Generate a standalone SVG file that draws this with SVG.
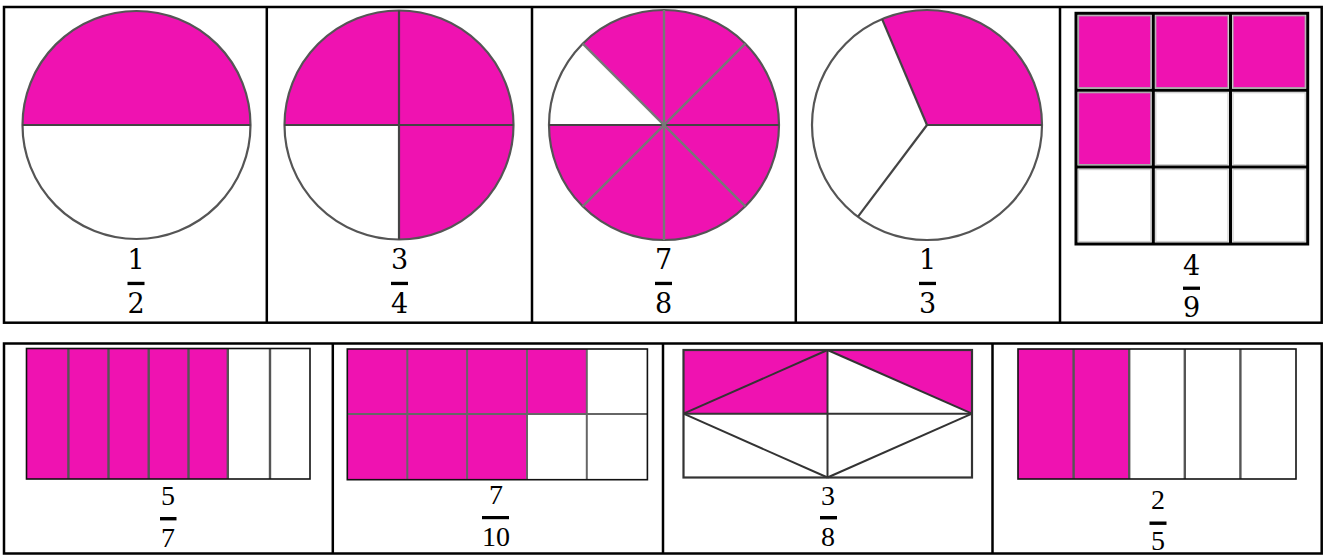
<svg xmlns="http://www.w3.org/2000/svg" width="1324" height="555" viewBox="0 0 1324 555">
<style>
.tb{stroke:#000;stroke-width:2.5;fill:none}
.pk{fill:#EF12B1}
.circ{fill:none;stroke:#555;stroke-width:2.2}
.cl{stroke:#444;stroke-width:2.2}
.dl{stroke:#777;stroke-width:2.4}
.gl{stroke:#000;stroke-width:3;fill:none}
.bx{fill:none;stroke:#111;stroke-width:1.6}
.sl{stroke:#555;stroke-width:2.4}
.tl{stroke:#333;stroke-width:2}
.num{font-family:"DejaVu Serif","Liberation Serif",serif;font-size:27px;fill:#000;text-anchor:middle}
.nb{font-family:"Liberation Serif","Times New Roman",serif;font-size:28px;fill:#000;text-anchor:middle}
.bar{fill:#000}
</style>
<rect width="1324" height="555" fill="#fff"/>

<g id="table-borders">
<rect class="tb" x="4" y="7" width="1317.7" height="315.7"/>
<line class="tb" x1="266.8" y1="7" x2="266.8" y2="322.7"/>
<line class="tb" x1="532" y1="7" x2="532" y2="322.7"/>
<line class="tb" x1="795.8" y1="7" x2="795.8" y2="322.7"/>
<line class="tb" x1="1060" y1="7" x2="1060" y2="322.7"/>
<rect class="tb" x="4" y="343.5" width="1317.7" height="210"/>
<line class="tb" x1="332.8" y1="343.5" x2="332.8" y2="553.5"/>
<line class="tb" x1="663" y1="343.5" x2="663" y2="553.5"/>
<line class="tb" x1="992.5" y1="343.5" x2="992.5" y2="553.5"/>
</g>

<g id="half">
<path class="pk" d="M22.5 125 A114 114 0 0 1 250.5 125 Z"/>
<circle class="circ" cx="136.5" cy="125" r="114"/>
<line class="cl" x1="22.5" y1="125" x2="250.5" y2="125"/>
<text class="num" x="136" y="269">1</text>
<rect class="bar" x="127.5" y="281.8" width="17" height="3.3"/>
<text class="num" x="136" y="313">2</text>
</g>

<g id="three-quarters">
<circle class="pk" cx="399" cy="125" r="114.5"/>
<path fill="#fff" d="M399 125 L284.5 125 A114.5 114.5 0 0 0 399 239.5 Z"/>
<circle class="circ" cx="399" cy="125" r="114.5"/>
<line class="cl" x1="284.5" y1="125" x2="513.5" y2="125"/>
<line class="cl" x1="399" y1="10.5" x2="399" y2="239.5"/>
<text class="num" x="399.5" y="269">3</text>
<rect class="bar" x="391" y="281.8" width="17" height="3.3"/>
<text class="num" x="399.5" y="313">4</text>
</g>

<g id="seven-eighths">
<circle class="pk" cx="664" cy="125" r="115"/>
<path fill="#fff" d="M664 125 L549 125 A115 115 0 0 1 582.7 43.7 Z"/>
<circle class="circ" cx="664" cy="125" r="115"/>
<line class="cl" x1="549" y1="125" x2="779" y2="125"/>
<line class="dl" x1="664" y1="10" x2="664" y2="240"/>
<line class="dl" x1="582.7" y1="43.7" x2="745.3" y2="206.3"/>
<line class="dl" x1="582.7" y1="206.3" x2="745.3" y2="43.7"/>
<text class="num" x="663.5" y="269">7</text>
<rect class="bar" x="655" y="281.8" width="17" height="3.3"/>
<text class="num" x="663.5" y="313">8</text>
</g>

<g id="one-third">
<path class="pk" d="M927 125 L1042 125 A115 115 0 0 0 882.1 19.1 Z"/>
<circle class="circ" cx="927" cy="125" r="115"/>
<line class="cl" x1="927" y1="125" x2="1042" y2="125"/>
<line class="cl" x1="927" y1="125" x2="882.1" y2="19.1"/>
<line class="cl" x1="927" y1="125" x2="857.8" y2="216.8"/>
<text class="num" x="927.5" y="269">1</text>
<rect class="bar" x="919" y="281.8" width="17" height="3.3"/>
<text class="num" x="927.5" y="313">3</text>
</g>

<g id="four-ninths">
<g fill="#fff" stroke="#cfcfcf" stroke-width="1.2">
<rect x="1155.8" y="92.7" width="72.2" height="71.9"/>
<rect x="1233" y="92.7" width="72.2" height="71.9"/>
<rect x="1078.5" y="169.6" width="72.3" height="71.9"/>
<rect x="1155.8" y="169.6" width="72.2" height="71.9"/>
<rect x="1233" y="169.6" width="72.2" height="71.9"/>
</g>
<g class="pk" stroke="#a8a8a8" stroke-width="1.2">
<rect x="1078.5" y="15.8" width="72.3" height="71.9"/>
<rect x="1155.8" y="15.8" width="72.2" height="71.9"/>
<rect x="1233" y="15.8" width="72.2" height="71.9"/>
<rect x="1078.5" y="92.7" width="72.3" height="71.9"/>
</g>
<rect class="gl" x="1076" y="13.3" width="231.7" height="230.7"/>
<line class="gl" x1="1153.3" y1="13.3" x2="1153.3" y2="244"/>
<line class="gl" x1="1230.5" y1="13.3" x2="1230.5" y2="244"/>
<line class="gl" x1="1076" y1="90.2" x2="1307.7" y2="90.2"/>
<line class="gl" x1="1076" y1="167.1" x2="1307.7" y2="167.1"/>
<text class="num" x="1191.5" y="275">4</text>
<rect class="bar" x="1183" y="286.6" width="17" height="3.3"/>
<text class="num" x="1191.5" y="317">9</text>
</g>

<g id="five-sevenths">
<rect class="pk" x="26.5" y="348.5" width="201.3" height="130.5"/>
<line class="sl" x1="68.4" y1="348.5" x2="68.4" y2="479"/>
<line class="sl" x1="108.5" y1="348.5" x2="108.5" y2="479"/>
<line class="sl" x1="148.7" y1="348.5" x2="148.7" y2="479"/>
<line class="sl" x1="188.5" y1="348.5" x2="188.5" y2="479"/>
<line class="sl" x1="227.8" y1="348.5" x2="227.8" y2="479"/>
<line class="sl" x1="270" y1="348.5" x2="270" y2="479"/>
<rect class="bx" x="26.5" y="348.5" width="283.5" height="130.5"/>
<text class="nb" x="168" y="505">5</text>
<rect class="bar" x="160" y="517" width="16.5" height="3.4"/>
<text class="nb" x="168" y="546.5">7</text>
</g>

<g id="seven-tenths">
<rect class="pk" x="347.3" y="349" width="239.5" height="65"/>
<rect class="pk" x="347.3" y="414" width="179.7" height="65.7"/>
<g stroke="#666" stroke-width="2">
<line x1="407.3" y1="349" x2="407.3" y2="479.7"/>
<line x1="467.1" y1="349" x2="467.1" y2="479.7"/>
<line x1="527" y1="349" x2="527" y2="479.7"/>
<line x1="586.8" y1="349" x2="586.8" y2="479.7"/>
<line x1="347.3" y1="414" x2="647.4" y2="414"/>
</g>
<rect class="bx" x="347.3" y="349" width="300.1" height="130.7"/>
<text class="nb" x="496" y="504">7</text>
<rect class="bar" x="482" y="516" width="27" height="3.2"/>
<text class="nb" x="496" y="546">10</text>
</g>

<g id="three-eighths">
<rect class="pk" x="683.5" y="350" width="144" height="63.7"/>
<path class="pk" d="M827.5 350 L972 350 L972 413.7 Z"/>
<g class="tl">
<line x1="827.5" y1="350" x2="827.5" y2="477.5"/>
<line x1="683.5" y1="413.7" x2="972" y2="413.7"/>
<line x1="683.5" y1="413.7" x2="827.5" y2="350"/>
<line x1="827.5" y1="350" x2="972" y2="413.7"/>
<line x1="683.5" y1="413.7" x2="827.5" y2="477.5"/>
<line x1="827.5" y1="477.5" x2="972" y2="413.7"/>
</g>
<rect x="683.5" y="350" width="288.5" height="127.5" fill="none" stroke="#333" stroke-width="2.2"/>
<text class="nb" x="828" y="505">3</text>
<rect class="bar" x="820" y="516" width="17" height="3.4"/>
<text class="nb" x="828" y="546">8</text>
</g>

<g id="two-fifths">
<rect class="pk" x="1018" y="349" width="111.2" height="130"/>
<g class="sl">
<line x1="1073.6" y1="349" x2="1073.6" y2="479"/>
<line x1="1129.2" y1="349" x2="1129.2" y2="479"/>
<line x1="1184.8" y1="349" x2="1184.8" y2="479"/>
<line x1="1240.4" y1="349" x2="1240.4" y2="479"/>
</g>
<rect class="bx" x="1018" y="349" width="278" height="130"/>
<text class="nb" x="1158" y="509">2</text>
<rect class="bar" x="1149.5" y="521.5" width="17" height="3.4"/>
<text class="nb" x="1158" y="550">5</text>
</g>
</svg>
